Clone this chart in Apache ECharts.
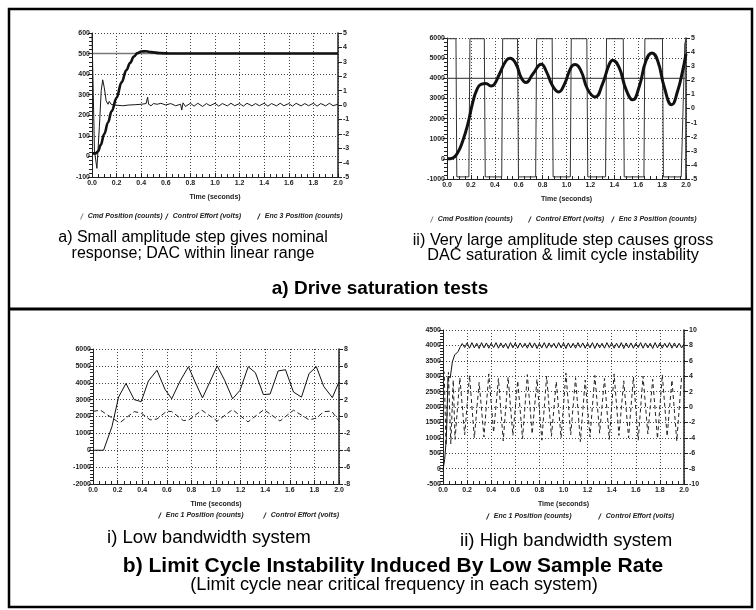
<!DOCTYPE html>
<html><head><meta charset="utf-8">
<script src="https://cdn.jsdelivr.net/npm/echarts/dist/echarts.min.js"></script>
<style>html,body{margin:0;padding:0;background:#fff}#c{width:756px;height:610px}</style>
</head><body><div id="c"></div>
<script>
// ---------- DATA ----------
// Plot a) small step
const p1CmdT = [0, 2.0];
const p1Cmd = [500, 500];
const p1EncT = [0, 0.03, 0.05, 0.07, 0.1, 0.13, 0.16, 0.2, 0.24, 0.28, 0.31, 0.34, 0.37, 0.4, 0.44, 0.48, 0.55, 0.65, 2.0];
const p1Enc = [15, 15, 25, 55, 110, 165, 220, 285, 360, 420, 455, 485, 502, 510, 511, 507, 502, 500, 500];
const p1CtrlT = [0, 0.006, 0.02, 0.04, 0.06, 0.075, 0.087, 0.1, 0.115, 0.13, 0.14, 0.155, 0.18, 0.25, 0.3, 0.35, 0.4, 0.44, 0.452, 0.46, 0.48, 0.5, 0.53, 0.56, 0.6, 0.64, 0.68, 0.72, 0.73, 0.74, 0.76, 0.8, 0.83, 0.86, 0.9, 0.93, 0.96, 1.0, 1.03, 1.06, 1.1, 1.13, 1.16, 1.2, 1.23, 1.26, 1.3, 1.33, 1.36, 1.4, 1.43, 1.46, 1.5, 1.53, 1.56, 1.6, 1.63, 1.66, 1.7, 1.73, 1.76, 1.8, 1.83, 1.86, 1.9, 1.93, 1.96, 2.0];
const p1Ctrl = [5, 5, -3.2, -4.4, -1.5, 1.0, 1.75, 1.2, 0.3, 0.05, 0.25, 0.05, 0.0, -0.05, 0.0, 0.02, 0.05, 0.1, 0.55, 0.05, -0.05, 0.1, 0.05, 0.12, 0.0, 0.1, -0.05, 0.05, -0.35, 0.15, -0.1, 0.12, -0.08, 0.12, -0.1, 0.1, -0.05, 0.12, -0.08, 0.1, -0.06, 0.12, -0.05, 0.1, -0.08, 0.12, -0.06, 0.1, -0.05, 0.12, -0.08, 0.1, -0.06, 0.12, -0.05, 0.1, -0.08, 0.12, -0.06, 0.1, -0.05, 0.12, -0.08, 0.1, -0.06, 0.12, -0.05, 0.05];

// Plot ii) large step
const p2CmdT = [0, 2.0];
const p2Cmd = [4000, 4000];
const p2EncT = [0, 0.047, 0.089, 0.131, 0.173, 0.215, 0.251, 0.284, 0.326, 0.368, 0.396, 0.438, 0.494, 0.527, 0.578, 0.62, 0.661, 0.717, 0.79, 0.829, 0.884, 0.934, 0.982, 1.038, 1.071, 1.121, 1.177, 1.24, 1.3, 1.358, 1.386, 1.44, 1.498, 1.554, 1.61, 1.665, 1.715, 1.763, 1.819, 1.88, 1.93, 1.972, 2.0];
const p2Enc = [0, 40, 300, 880, 1700, 2790, 3450, 3700, 3740, 3620, 3700, 4200, 4870, 4990, 4700, 4040, 3790, 4200, 4700, 4370, 3620, 3320, 3700, 4540, 4680, 4370, 3450, 3070, 3700, 4700, 4900, 4540, 3450, 2930, 3620, 4870, 5260, 4870, 3540, 2680, 3370, 4370, 5200];
const p2CtrlT = [0, 0.075, 0.082, 0.183, 0.192, 0.312, 0.32, 0.458, 0.466, 0.59, 0.598, 0.742, 0.75, 0.88, 0.888, 1.032, 1.04, 1.17, 1.178, 1.327, 1.335, 1.475, 1.483, 1.648, 1.656, 1.803, 1.811, 1.96, 1.99, 2.0];
const p2Ctrl = [4.95, 4.95, -4.85, -4.85, 4.95, 4.95, -4.85, -4.85, 4.95, 4.95, -4.85, -4.85, 4.95, 4.95, -4.85, -4.85, 4.95, 4.95, -4.85, -4.85, 4.95, 4.95, -4.85, -4.85, 4.95, 4.95, -4.85, -4.85, 4.6, 4.95];

// Plot b-i) low bandwidth
const p3EncT = [0, 0.086, 0.154, 0.208, 0.268, 0.335, 0.392, 0.45, 0.52, 0.586, 0.64, 0.708, 0.776, 0.83, 0.89, 0.95, 1.01, 1.07, 1.135, 1.195, 1.262, 1.32, 1.385, 1.44, 1.505, 1.565, 1.63, 1.695, 1.757, 1.816, 1.876, 1.946, 2.0];
const p3Enc = [0, 0, 1400, 3150, 3960, 3000, 2880, 4100, 4740, 3600, 3050, 4100, 4950, 4050, 3100, 4050, 5000, 4150, 3050, 3550, 4950, 4600, 3300, 3330, 4700, 4770, 3450, 3150, 4550, 4950, 3780, 3120, 4050];
const p3CtrlT = [0, 0.06, 0.216, 0.335, 0.392, 0.465, 0.52, 0.6, 0.64, 0.735, 0.776, 0.885, 1.01, 1.135, 1.26, 1.39, 1.52, 1.63, 1.757, 1.816, 1.876, 1.94, 2.0];
const p3Ctrl = [0.6, 0.75, -0.76, 0.58, 0.4, -0.4, -0.3, 0.64, 0.58, -0.48, -0.44, 0.75, -0.54, 0.82, -0.64, 0.82, -0.54, 0.75, -0.4, -0.2, 0.58, 0.64, -0.54];

// Plot b-ii) high bandwidth
const p4EncStartT = [0, 0.014, 0.028, 0.042, 0.06, 0.078, 0.097, 0.11, 0.125, 0.144];
const p4EncStart = [-50, 300, 1000, 3000, 2950, 3470, 3690, 3640, 3800, 3960];
const p4OscT0 = 0.16, p4OscDt = 0.02;
const p4EncOsc = [4060,3930,4080,3910,4090,3920,4070,3900,4090,3920,4080,3910,4070,3930,4090,3910,4080,3920,4070,3900,4090,3920,4080,3910,4080,3930,4070,3910,4090,3920,4080,3900,4070,3920,4090,3910,4080,3930,4070,3910,4090,3920,4080,3900,4080,3920,4070,3910,4090,3930,4080,3910,4070,3920,4090,3900,4080,3920,4070,3910,4090,3930,4080,3910,4070,3920,4090,3900,4080,3920,4080,3910,4070,3930,4090,3910,4080,3920,4070,3900,4090,3920,4080,3910,4070,3930,4090,3910,4080,3920,4070,3920,4050];
const p4CtrlStartT = [0, 0.01, 0.025, 0.045, 0.065, 0.085];
const p4CtrlStart = [4.8, 4.5, -5.0, 4.5, -4.8, 3.5];
const p4CtrlT0 = 0.1, p4CtrlDt = 0.04;
const p4CtrlOsc = [-4.2, 3.8, -3.6, 4.1, -4.0, 3.2, -3.9, 4.3, -3.3, 3.7, -4.4, 3.9, -3.7, 3.4, -4.1, 4.2, -3.5, 3.6, -4.3, 4.0, -3.8, 3.3, -4.0, 4.4, -3.6, 3.8, -4.5, 3.5, -3.9, 4.1, -3.4, 3.7, -4.2, 4.3, -3.7, 3.4, -4.0, 3.9, -4.3, 4.0, -3.5, 3.6, -4.1, 4.2, -3.8, 3.5, -4.4, 3.9];

const timeTicks = ['0.0','0.2','0.4','0.6','0.8','1.0','1.2','1.4','1.6','1.8','2.0'];

// ---------- BUILD ----------
const zip = (t, v) => t.map((x, i) => [x, v[i]]);
const p4Enc = zip(p4EncStartT, p4EncStart).concat(p4EncOsc.map((v, i) => [+(p4OscT0 + i * p4OscDt).toFixed(3), v]).filter(d => d[0] <= 2.0));
const p4Ctrl = zip(p4CtrlStartT, p4CtrlStart).concat(p4CtrlOsc.map((v, i) => [+(p4CtrlT0 + i * p4CtrlDt).toFixed(3), v]).filter(d => d[0] <= 2.0));

const FONT = '"Liberation Sans", Arial, sans-serif';
const tickLbl = {fontSize: 7, fontWeight: 'bold', color: '#222', fontFamily: FONT};
const AX = '#222';

const grids = [
  {left: 92, top: 33, width: 246, height: 144},
  {left: 447, top: 38, width: 239, height: 141},
  {left: 93, top: 349, width: 246, height: 135},
  {left: 443, top: 330, width: 241, height: 154}
];

function xAx(gi) {
  return {type: 'value', gridIndex: gi, min: 0, max: 2, interval: 0.2,
    axisLine: {show: true, onZero: false, lineStyle: {color: AX, width: 1}},
    axisTick: {show: true, inside: true, length: 4, lineStyle: {color: AX}},
    minorTick: {show: true, splitNumber: 4, length: 3, lineStyle: {color: AX}},
    axisLabel: {...tickLbl, margin: 3, formatter: (v) => timeTicks[Math.round(v / 0.2)]},
    splitLine: {show: true, lineStyle: {color: '#444', type: [1, 2], width: 1}},
    name: 'Time (seconds)', nameLocation: 'middle', nameGap: 17,
    nameTextStyle: {fontSize: 7, fontWeight: 'bold', color: '#222', fontFamily: FONT}};
}
function yLeft(gi, min, max, interval, minorSplit) {
  return {type: 'value', gridIndex: gi, min, max, interval, position: 'left',
    axisLine: {show: true, onZero: false, lineStyle: {color: AX, width: 1}},
    axisTick: {show: true, inside: false, length: 4, lineStyle: {color: AX}},
    minorTick: {show: true, splitNumber: minorSplit, length: 3, lineStyle: {color: AX}},
    axisLabel: {...tickLbl, margin: 2, formatter: (v) => String(v)},
    splitLine: {show: true, lineStyle: {color: '#444', type: [1, 2], width: 1}}};
}
function yRight(gi, min, max, interval) {
  return {type: 'value', gridIndex: gi, min, max, interval, position: 'right',
    axisLine: {show: true, onZero: false, lineStyle: {color: AX, width: 1.5}},
    axisTick: {show: true, inside: false, length: 4, lineStyle: {color: AX}},
    axisLabel: {...tickLbl, margin: 5, formatter: (v) => String(v)},
    splitLine: {show: false}};
}

function line(name, xi, yi, data, color, width, extra) {
  return Object.assign({type: 'line', name, xAxisIndex: xi, yAxisIndex: yi, data,
    showSymbol: false, symbol: 'none', animation: false, color,
    lineStyle: {color, width}}, extra || {});
}

const slash = 'path://M0,10L1.6,10L6,0L4.4,0Z';
function leg(name, left, top) {
  return {show: true, data: [{name, icon: slash}], left, top, itemWidth: 4, itemHeight: 6, itemGap: 4,
    padding: 0, selectedMode: false,
    textStyle: {fontSize: 7, fontStyle: 'italic', fontWeight: 'bold', color: '#222', fontFamily: FONT, padding: [0, 0, 0, -1]}};
}
function txt(text, x, y, font, align, sx) {
  return {type: 'text', silent: true, x, y, scaleX: sx || 1, originX: 0,
    style: {text, x: 0, y: 0, textAlign: align, textVerticalAlign: 'middle', font, fill: '#000'}};
}

const option = {
  backgroundColor: '#fff',
  animation: false,
  grid: grids,
  xAxis: [xAx(0), xAx(1), xAx(2), xAx(3)],
  yAxis: [
    yLeft(0, -100, 600, 100, 5), yRight(0, -5, 5, 1),
    yLeft(1, -1000, 6000, 1000, 5), yRight(1, -5, 5, 1),
    yLeft(2, -2000, 6000, 1000, 5), yRight(2, -8, 8, 2),
    yLeft(3, -500, 4500, 500, 5), yRight(3, -10, 10, 2)
  ],
  legend: [
    leg('Cmd Position (counts)', 80, 213), leg('Control Effort (volts)', 165, 213), leg('Enc 3 Position (counts)', 257, 213),
    leg('Cmd Position (counts)', 430, 216), leg('Control Effort (volts)', 528, 216), leg('Enc 3 Position (counts)', 611, 216),
    leg('Enc 1 Position (counts)', 158, 512), leg('Control Effort (volts)', 263, 512),
    leg('Enc 1 Position (counts)', 486, 513), leg('Control Effort (volts)', 598, 513)
  ],
  series: [
    line('Cmd Position (counts)', 0, 0, zip(p1CmdT, p1Cmd), '#7a7a7a', 1.6),
    line('Control Effort (volts)', 0, 1, zip(p1CtrlT, p1Ctrl), '#1a1a1a', 1),
    line('Enc 3 Position (counts)', 0, 0, zip(p1EncT, p1Enc), '#111', 2.6, {smooth: 0.4, smoothMonotone: 'x'}),

    line('Cmd Position (counts)', 1, 2, zip(p2CmdT, p2Cmd), '#555', 1.2),
    line('Control Effort (volts)', 1, 3, zip(p2CtrlT, p2Ctrl), '#333', 1),
    line('Enc 3 Position (counts)', 1, 2, zip(p2EncT, p2Enc), '#111', 3, {smooth: 0.5}),

    line('Enc 1 Position (counts)', 2, 4, zip(p3EncT, p3Enc), '#111', 1),
    line('Control Effort (volts)', 2, 5, zip(p3CtrlT, p3Ctrl), '#222', 1, {lineStyle: {color: '#222', width: 1, type: [5, 3]}}),

    line('Enc 1 Position (counts)', 3, 6, p4Enc, '#111', 1),
    line('Control Effort (volts)', 3, 7, p4Ctrl, '#222', 1, {lineStyle: {color: '#222', width: 1, type: [4, 3]}})
  ],
  graphic: [
    {type: 'rect', silent: true, shape: {x: 9, y: 9, width: 743, height: 598}, style: {fill: 'none', stroke: '#000', lineWidth: 2.5}},
    {type: 'line', silent: true, shape: {x1: 9, y1: 309, x2: 752, y2: 309}, style: {stroke: '#000', lineWidth: 3}},
    txt('a) Small amplitude step gives nominal', 193, 238, '16px ' + FONT, 'center'),
    txt('response; DAC within linear range', 193, 254, '16px ' + FONT, 'center'),
    txt('ii) Very large amplitude step causes gross', 563, 240, '17px ' + FONT, 'center', 0.955),
    txt('DAC saturation & limit cycle instability', 563, 255, '17px ' + FONT, 'center', 0.955),
    txt('a) Drive saturation tests', 380, 289, 'bold 19px ' + FONT, 'center'),
    txt('i) Low bandwidth system', 107, 538, '19px ' + FONT, 'left', 0.98),
    txt('ii) High bandwidth system', 460, 541, '19px ' + FONT, 'left', 0.98),
    txt('b) Limit Cycle Instability Induced By Low Sample Rate', 393, 566, 'bold 21px ' + FONT, 'center'),
    txt('(Limit cycle near critical frequency in each system)', 394, 585, '19px ' + FONT, 'center', 0.96)
  ]
};

const chart = echarts.init(document.getElementById('c'), null, {renderer: 'canvas'});
chart.setOption(option);
</script></body></html>
